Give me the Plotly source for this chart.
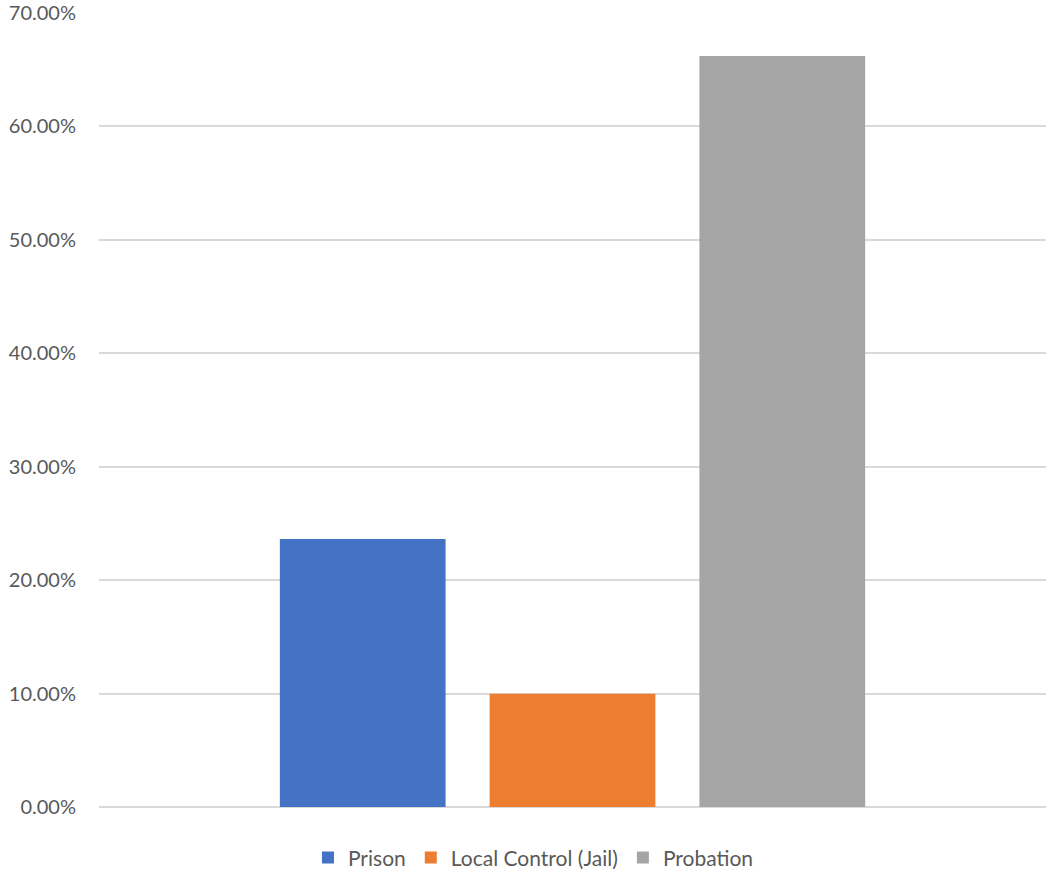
import plotly.graph_objects as go

categories = [""]
series_names = ["Prison", "Local Control (Jail)", "Probation"]
series_values = [0.2363, 0.0999, 0.6621]
series_colors = ["#4472C4", "#ED7D31", "#A5A5A5"]
tick_values = [0, 0.1, 0.2, 0.3, 0.4, 0.5, 0.6, 0.7]

fig = go.Figure()
for name, val, col in zip(series_names, series_values, series_colors):
    fig.add_trace(go.Bar(x=categories, y=[val], name=name, marker_color=col,
                         marker_line_width=0))

font_family = "Lato, 'Liberation Sans', sans-serif"
fig.update_layout(
    width=1046, height=871,
    margin=dict(l=99, r=0, t=13, b=64),
    paper_bgcolor="white", plot_bgcolor="white",
    barmode="group", bargap=0.3354, bargroupgap=0.21,
    font=dict(family=font_family, color="#595959", size=20),
    showlegend=True,
    legend=dict(orientation="h", xref="container", yref="container",
                x=0.51, y=0.015, xanchor="center", yanchor="middle",
                font=dict(size=21, color="#595959"), itemwidth=30,
                traceorder="normal"),
    xaxis=dict(showticklabels=False, showgrid=False, showline=False,
               range=[-0.5, 0.5], fixedrange=True),
    yaxis=dict(range=[0, 0.70], tickvals=tick_values, tickformat=".2%",
               showgrid=True, gridcolor="#D9D9D9", gridwidth=1.5,
               zeroline=True, zerolinecolor="#D9D9D9", zerolinewidth=1.5,
               showline=False, ticks="", ticklabelstandoff=22,
               tickfont=dict(size=20, color="#595959")),
)

fig.write_html("out.html", config={"displayModeBar": False},
               post_script="document.body.style.margin='0';")
